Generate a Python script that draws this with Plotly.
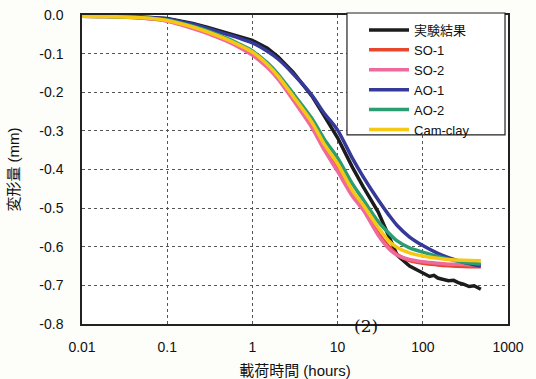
import plotly.graph_objects as go

# ---- data ----
t_common = [0.01, 0.02, 0.05, 0.1, 0.2, 0.3, 0.5, 0.7, 1, 1.5, 2, 3, 5, 7, 10,
            15, 20, 30, 40, 50, 70, 100, 150, 200, 300, 480]

t_exp = [0.01, 0.02, 0.05, 0.1, 0.2, 0.3, 0.5, 0.7, 1, 1.5, 2, 3, 5, 7, 10,
         15, 20, 30, 40, 50, 70, 100, 120, 135, 150, 170, 200, 230, 260, 300,
         350, 400, 440, 480]
d_exp = [-0.002, -0.003, -0.005, -0.009, -0.022, -0.032, -0.047, -0.056, -0.066,
         -0.086, -0.108, -0.148, -0.210, -0.262, -0.318, -0.395, -0.445, -0.510,
         -0.575, -0.622, -0.650, -0.669, -0.677, -0.674, -0.681, -0.684, -0.688,
         -0.687, -0.693, -0.697, -0.703, -0.701, -0.707, -0.710]

d_so1 = [-0.003, -0.004, -0.008, -0.015, -0.033, -0.046, -0.066, -0.081, -0.101,
         -0.133, -0.162, -0.216, -0.286, -0.343, -0.398, -0.465, -0.503, -0.565,
         -0.600, -0.620, -0.636, -0.643, -0.647, -0.649, -0.651, -0.652]
d_so2 = [-0.003, -0.004, -0.008, -0.016, -0.035, -0.048, -0.068, -0.084, -0.104,
         -0.136, -0.166, -0.220, -0.292, -0.350, -0.405, -0.470, -0.505, -0.570,
         -0.605, -0.622, -0.633, -0.639, -0.643, -0.645, -0.646, -0.648]
d_ao1 = [-0.002, -0.003, -0.006, -0.010, -0.024, -0.035, -0.050, -0.060, -0.072,
         -0.094, -0.114, -0.152, -0.208, -0.255, -0.298, -0.372, -0.419, -0.479,
         -0.518, -0.545, -0.575, -0.597, -0.617, -0.628, -0.640, -0.650]
d_ao2 = [-0.003, -0.004, -0.007, -0.013, -0.029, -0.041, -0.060, -0.075, -0.093,
         -0.124, -0.153, -0.203, -0.268, -0.322, -0.370, -0.438, -0.478, -0.535,
         -0.565, -0.585, -0.603, -0.614, -0.625, -0.632, -0.640, -0.645]
d_cam = [-0.003, -0.004, -0.007, -0.014, -0.031, -0.044, -0.063, -0.078, -0.096,
         -0.128, -0.158, -0.210, -0.278, -0.335, -0.385, -0.455, -0.492, -0.550,
         -0.585, -0.602, -0.616, -0.624, -0.630, -0.633, -0.635, -0.636]

series_names = ["実験結果", "SO-1", "SO-2", "AO-1", "AO-2", "Cam-clay"]
series_colors = ["#1c1c1c", "#e8472e", "#ef6a9c", "#34399a", "#2a9d72", "#f6c814"]

x_ticks = [0.01, 0.1, 1, 10, 100, 1000]
x_ticklabels = ["0.01", "0.1", "1", "10", "100", "1000"]
y_ticks = [0.0, -0.1, -0.2, -0.3, -0.4, -0.5, -0.6, -0.7, -0.8]
y_ticklabels = ["0.0", "-0.1", "-0.2", "-0.3", "-0.4", "-0.5", "-0.6", "-0.7", "-0.8"]

FONT = "Liberation Sans, Arial, Noto Sans CJK JP, sans-serif"

fig = go.Figure()
all_x = [t_exp, t_common, t_common, t_common, t_common, t_common]
all_y = [d_exp, d_so1, d_so2, d_ao1, d_ao2, d_cam]
for i, (xs, ys) in enumerate(zip(all_x, all_y)):
    fig.add_trace(go.Scatter(
        x=xs, y=ys, mode="lines", name=series_names[i],
        line=dict(color=series_colors[i], width=3.5,
                  shape="linear" if i == 0 else "spline", smoothing=0.8),
    ))

fig.update_layout(
    width=536, height=379,
    margin=dict(l=82, r=28, t=15, b=55),
    paper_bgcolor="#fdfdf9",
    plot_bgcolor="#ffffff",
    font=dict(family=FONT, size=14, color="#111111"),
    showlegend=True,
    legend=dict(
        x=0.662, y=1.0, xanchor="left", yanchor="top",
        bgcolor="rgba(0,0,0,0)", borderwidth=0,
        font=dict(family=FONT, size=13, color="#111111"),
        itemwidth=40, tracegroupgap=0,
    ),
    shapes=[dict(
        type="rect", xref="paper", yref="paper",
        x0=0.622, x1=0.993, y0=0.612, y1=1.0065,
        line=dict(color="#222222", width=1.2), fillcolor="#ffffff", layer="above",
    )],
    xaxis=dict(
        type="log", range=[-2, 3], automargin=False,
        tickvals=x_ticks, ticktext=x_ticklabels,
        showgrid=True, gridcolor="#555555", gridwidth=1, griddash="dot",
        showline=True, linecolor="#222222", linewidth=1.5, mirror=True,
        ticks="", ticklabelstandoff=9, zeroline=False,
        title=dict(text="載荷時間 (hours)", font=dict(size=15), standoff=14),
    ),
    yaxis=dict(
        range=[-0.8, 0.0], automargin=False,
        tickvals=y_ticks, ticktext=y_ticklabels,
        showgrid=True, gridcolor="#555555", gridwidth=1, griddash="dot",
        showline=True, linecolor="#222222", linewidth=1.5, mirror=True,
        ticks="", ticklabelstandoff=14, zeroline=False,
        title=dict(text="変形量 (mm)", font=dict(size=15), standoff=16),
    ),
    annotations=[dict(
        text="(2)", xref="paper", yref="paper", x=0.667, y=-0.006,
        xanchor="center", yanchor="middle", showarrow=False,
        font=dict(family="DejaVu Serif, Liberation Serif, serif", size=17, color="#111111"),
    )],
)

fig.write_html("out.html", config={"displayModeBar": False},
               post_script="document.body.style.margin='0px';")
